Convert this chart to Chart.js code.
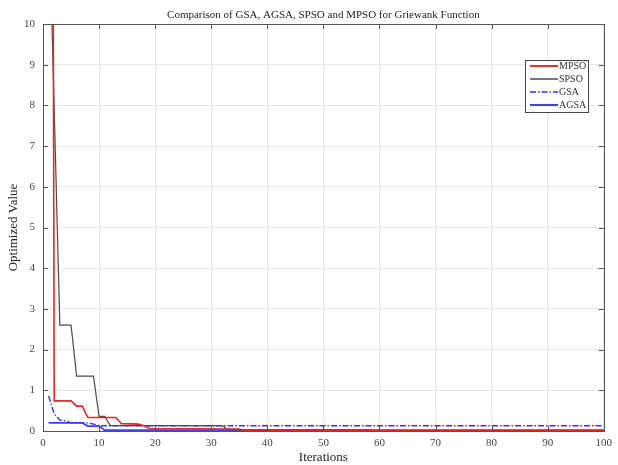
<!DOCTYPE html>
<html>
<head>
<meta charset="utf-8">
<script src="https://cdn.jsdelivr.net/npm/chart.js@4"></script>
<style>
  html, body { margin: 0; padding: 0; background: #fff; }
  #wrap { width: 618px; height: 465px; }
</style>
</head>
<body>
<div id="wrap"><canvas id="griewank"></canvas></div>
<script>
// values (iteration, optimized value)
const mpsoIter = [1, 2, 5, 6, 7, 8, 13, 14, 17, 18, 19, 35, 36, 100];
const mpsoVal = [60, 0.74, 0.74, 0.61, 0.61, 0.33, 0.33, 0.18, 0.17, 0.13, 0.06, 0.05, 0.01, 0.01];

const spsoIter = [1, 2, 3, 5, 6, 9, 10, 11, 12, 32, 33, 58, 59, 100];
const spsoVal = [13.1, 7.9, 2.6, 2.6, 1.35, 1.35, 0.36, 0.36, 0.13, 0.13, 0.03, 0.03, 0.01, 0.01];

const gsaIter = [1, 2, 3, 4, 5, 8, 9, 10, 100];
const gsaVal = [0.86, 0.42, 0.27, 0.25, 0.2, 0.2, 0.17, 0.13, 0.13];

const agsaIter = [1, 7, 8, 10, 11, 100];
const agsaVal = [0.2, 0.2, 0.12, 0.12, 0.02, 0.02];

const seriesNames = ["MPSO", "SPSO", "GSA", "AGSA"];
const xTicks = [0, 10, 20, 30, 40, 50, 60, 70, 80, 90, 100];
const yTicks = [0, 1, 2, 3, 4, 5, 6, 7, 8, 9, 10];

const toPoints = (xs, ys) => xs.map((x, i) => ({ x: x, y: ys[i] }));

const serif = "'Liberation Serif', 'DejaVu Serif', serif";

// MATLAB style box with inward ticks
const boxPlugin = {
  id: "box",
  afterDraw(chart) {
    const { ctx, chartArea: a, scales } = chart;
    ctx.save();
    ctx.strokeStyle = "#555";
    ctx.lineWidth = 1;
    ctx.beginPath();
    xTicks.forEach((t) => {
      const px = Math.round(scales.x.getPixelForValue(t)) + 0.5;
      ctx.moveTo(px, a.bottom); ctx.lineTo(px, a.bottom - 5);
      ctx.moveTo(px, a.top); ctx.lineTo(px, a.top + 5);
    });
    yTicks.forEach((t) => {
      const py = Math.round(scales.y.getPixelForValue(t)) + 0.5;
      ctx.moveTo(a.left, py); ctx.lineTo(a.left + 5, py);
      ctx.moveTo(a.right, py); ctx.lineTo(a.right - 5, py);
    });
    ctx.stroke();
    ctx.strokeRect(Math.round(a.left) + 0.5, Math.round(a.top) + 0.5,
      Math.round(a.right - a.left), Math.round(a.bottom - a.top));

    // title centred over the axes
    ctx.fillStyle = "#222";
    ctx.font = "11px " + serif;
    ctx.textAlign = "center";
    ctx.textBaseline = "middle";
    ctx.fillText("Comparison of GSA, AGSA, SPSO and MPSO for Griewank Function",
      (a.left + a.right) / 2, 15);

    // legend box
    const lx = 525, ly = 60, lw = 63, lh = 52;
    ctx.fillStyle = "#fff";
    ctx.fillRect(lx, ly, lw, lh);
    ctx.strokeStyle = "#444";
    ctx.lineWidth = 1;
    ctx.strokeRect(lx + 0.5, ly + 0.5, lw, lh);
    ctx.font = "10px " + serif;
    ctx.textAlign = "left";
    chart.data.datasets.forEach((ds, i) => {
      const yy = ly + 6 + i * 13;
      ctx.strokeStyle = ds.borderColor;
      ctx.lineWidth = ds.borderWidth + 0.3;
      ctx.setLineDash(ds.borderDash || []);
      ctx.beginPath();
      ctx.moveTo(lx + 5, yy); ctx.lineTo(lx + 33, yy);
      ctx.stroke();
      ctx.setLineDash([]);
      ctx.fillStyle = "#333";
      ctx.fillText(ds.label, lx + 34, yy + 0.5);
    });
    ctx.restore();
  },
};

const configGriewank = {
  type: "line",
  data: {
    datasets: [
      {
        label: seriesNames[0],
        data: toPoints(mpsoIter, mpsoVal),
        borderColor: "#e3262b",
        borderWidth: 1.6,
        pointRadius: 0,
        tension: 0,
      },
      {
        label: seriesNames[1],
        data: toPoints(spsoIter, spsoVal),
        borderColor: "#4a4a4a",
        borderWidth: 1.2,
        pointRadius: 0,
        tension: 0,
      },
      {
        label: seriesNames[2],
        data: toPoints(gsaIter, gsaVal),
        borderColor: "#3535dc",
        borderWidth: 1.4,
        borderDash: [6, 2, 1.5, 2],
        pointRadius: 0,
        tension: 0,
      },
      {
        label: seriesNames[3],
        data: toPoints(agsaIter, agsaVal),
        borderColor: "#4040f2",
        borderWidth: 1.8,
        pointRadius: 0,
        tension: 0,
      },
    ],
  },
  options: {
    responsive: true,
    maintainAspectRatio: false,
    animation: false,
    layout: { padding: { top: 24, right: 11, left: 0, bottom: 0 } },
    plugins: {
      legend: { display: false },
      tooltip: { enabled: false },
    },
    scales: {
      x: {
        type: "linear",
        min: 0,
        max: 100,
        afterBuildTicks: (s) => { s.ticks = xTicks.map((v) => ({ value: v })); },
        afterFit: (s) => { s.height = 34; },
        grid: { color: "#e8e8e8", drawTicks: false },
        border: { display: false },
        ticks: { padding: 6, color: "#444", font: { family: serif, size: 11 } },
        title: {
          display: true,
          text: "Iterations",
          color: "#222",
          padding: { top: 0, bottom: 0 },
          font: { family: serif, size: 13 },
        },
      },
      y: {
        min: 0,
        max: 10,
        afterBuildTicks: (s) => { s.ticks = yTicks.map((v) => ({ value: v })); },
        afterFit: (s) => { s.width = 43; },
        grid: { color: "#e8e8e8", drawTicks: false },
        border: { display: false },
        ticks: { padding: 8, color: "#444", font: { family: serif, size: 11 } },
        title: {
          display: true,
          text: "Optimized Value",
          color: "#222",
          padding: { top: 6, bottom: 0 },
          font: { family: serif, size: 13 },
        },
      },
    },
  },
  plugins: [boxPlugin],
};

const griewank = new Chart(document.getElementById("griewank"), configGriewank);
</script>
</body>
</html>
